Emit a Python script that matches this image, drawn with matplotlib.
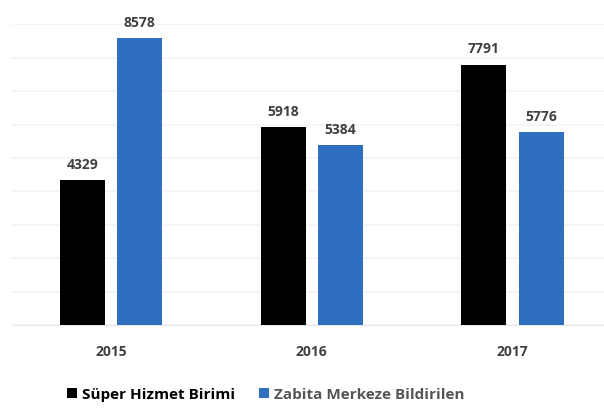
import matplotlib.pyplot as plt
import numpy as np

years = ["2015", "2016", "2017"]
super_hizmet = [4329, 5918, 7791]
zabita = [8578, 5384, 5776]
labels = ["Süper Hizmet Birimi", "Zabita Merkeze Bildirilen"]

plt.rcParams['font.family'] = ['Open Sans', 'DejaVu Sans']

fig = plt.figure(figsize=(6.04, 4.11), dpi=100)
ax = fig.add_axes([0.02, 0.209, 0.98, 0.732])

x = np.arange(len(years))
w = 0.224
off = 0.143
b1 = ax.bar(x - off, super_hizmet, w, color="#000000", label=labels[0], zorder=3)
b2 = ax.bar(x + off, zabita, w, color="#2f6fbf", label=labels[1], zorder=3)

for bars in (b1, b2):
    for r in bars:
        ax.annotate(str(int(r.get_height())), (r.get_x() + r.get_width() / 2, r.get_height()),
                    xytext=(0, 6), textcoords="offset points", ha="center", va="bottom",
                    fontsize=10, fontweight="bold", color="#404040")

ax.set_xlim(-0.493, 2.456)
ax.set_ylim(0, 9000)
ax.set_yticks(np.arange(0, 9001, 1000))
ax.yaxis.grid(True, color="#f4f4f4", linewidth=1.2, zorder=0)
ax.tick_params(axis="y", left=False, labelleft=False)
ax.set_xticks(x)
ax.set_xticklabels(years, fontsize=10, fontweight="bold", color="#404040")
ax.tick_params(axis="x", length=0, pad=14)
for s in ["top", "right", "left"]:
    ax.spines[s].set_visible(False)
ax.spines["bottom"].set_color("#e8e8e8")

leg = fig.legend(loc="center", bbox_to_anchor=(0.44, 0.04), ncol=2, frameon=False,
                 handlelength=0.65, handleheight=0.65, handletextpad=0.3, columnspacing=1.6,
                 prop={"size": 11, "weight": "bold"})
leg.get_texts()[1].set_color("#555555")

fig.savefig("out.png", dpi=100)
